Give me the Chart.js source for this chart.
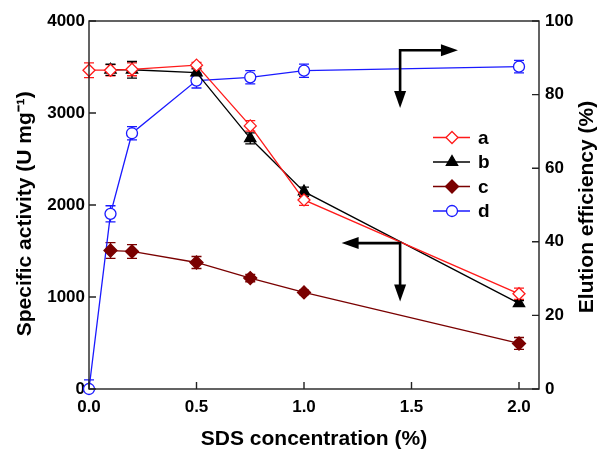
<!DOCTYPE html>
<html>
<head>
<meta charset="utf-8">
<script src="https://cdn.jsdelivr.net/npm/chart.js@4.4.1/dist/chart.umd.min.js"></script>
<style>
  html, body { margin: 0; padding: 0; background: #fff; }
</style>
</head>
<body>
<canvas id="chart" width="597" height="451"></canvas>
<script>
// SDS concentration (%) on the x axis
const sdsConc = [0, 0.1, 0.2, 0.5, 0.75, 1.0, 2.0];

// specific activity (U mg-1), left axis
const activityA = [3465, 3465, 3475, 3520, 2860, 2055, 1035];
const activityB = [null, 3470, 3470, 3440, 2725, 2145, 930];
const activityC = [null, 1505, 1495, 1375, 1206, 1050, 495];
const errA = [80, 60, 70, 30, 58, 60, 62];
const errB = [null, 60, 90, 40, 60, 50, 30];
const errC = [null, 85, 75, 65, 40, 25, 65];

// elution efficiency (%), right axis
const elutionD = [0, 47.6, 69.5, 83.8, 84.7, 86.5, 87.6];
const errD = [2.5, 2.2, 1.8, 2.0, 1.8, 1.8, 1.7];

const seriesNames = ["a", "b", "c", "d"];
const xTicks = [0, 0.5, 1.0, 1.5, 2.0];
const leftTicks = [0, 1000, 2000, 3000, 4000];
const rightTicks = [0, 20, 40, 60, 80, 100];

const FONT = "'Liberation Sans', Arial, sans-serif";
const tickFont = { family: FONT, size: 17, weight: "bold" };
const titleFont = { family: FONT, size: 21, weight: "bold", lineHeight: 1 };

function toPoints(values) {
  return sdsConc
    .map((x, i) => ({ x: x, y: values[i] }))
    .filter(p => p.y !== null);
}

function makeSet(label, values, errors, color, style, radius, fill, axis) {
  return {
    label: label,
    data: toPoints(values),
    errors: errors,
    yAxisID: axis,
    borderColor: color,
    backgroundColor: fill,
    borderWidth: 1.3,
    pointStyle: style,
    pointRadius: radius,
    pointBorderWidth: 1.3,
    pointBorderColor: color,
    pointBackgroundColor: fill,
    tension: 0,
    clip: false
  };
}

// small marker drawer for the legend
function marker(ctx, style, x, y, r, stroke, fill) {
  ctx.beginPath();
  if (style === "rectRot") {
    ctx.moveTo(x, y - r); ctx.lineTo(x + r, y); ctx.lineTo(x, y + r); ctx.lineTo(x - r, y);
    ctx.closePath();
  } else if (style === "triangle") {
    ctx.moveTo(x, y - r); ctx.lineTo(x + r * 0.87, y + r * 0.5); ctx.lineTo(x - r * 0.87, y + r * 0.5);
    ctx.closePath();
  } else {
    ctx.arc(x, y, r, 0, Math.PI * 2);
  }
  ctx.fillStyle = fill;
  ctx.fill();
  ctx.lineWidth = 1.3;
  ctx.strokeStyle = stroke;
  ctx.stroke();
}

function arrowHead(ctx, x, y, dir) {
  const len = 17, half = 6;
  ctx.beginPath();
  if (dir === "down") {
    ctx.moveTo(x, y); ctx.lineTo(x - half, y - len); ctx.lineTo(x + half, y - len);
  } else if (dir === "right") {
    ctx.moveTo(x, y); ctx.lineTo(x - len, y - half); ctx.lineTo(x - len, y + half);
  } else {
    ctx.moveTo(x, y); ctx.lineTo(x + len, y - half); ctx.lineTo(x + len, y + half);
  }
  ctx.closePath();
  ctx.fill();
}

// L-shaped arrows in data units: corner, vertical tip, horizontal tip
const arrows = [
  { cx: 1.447, cy: 3682, downTo: 3053, sideTo: 1.716, side: "right" },
  { cx: 1.447, cy: 1586, downTo: 952, sideTo: 1.175, side: "left" }
];

const extras = {
  id: "extras",
  beforeDatasetsDraw(chart) {
    const ctx = chart.ctx;
    const a = chart.chartArea;
    const xs = chart.scales.x;
    ctx.save();
    ctx.beginPath();
    ctx.rect(a.left - 10, a.top - 10, a.right - a.left + 20, a.bottom - a.top + 10);
    ctx.clip();
    chart.data.datasets.forEach(ds => {
      const ys = chart.scales[ds.yAxisID];
      ctx.strokeStyle = ds.borderColor;
      ctx.lineWidth = 1.3;
      ds.data.forEach(p => {
        const idx = sdsConc.indexOf(p.x);
        const e = ds.errors[idx];
        if (e === null || e === undefined) return;
        const px = xs.getPixelForValue(p.x);
        const top = ys.getPixelForValue(p.y + e);
        const bot = ys.getPixelForValue(p.y - e);
        ctx.beginPath();
        ctx.moveTo(px, top); ctx.lineTo(px, bot);
        ctx.moveTo(px - 5, top); ctx.lineTo(px + 5, top);
        ctx.moveTo(px - 5, bot); ctx.lineTo(px + 5, bot);
        ctx.stroke();
      });
    });
    ctx.restore();
  },
  afterDatasetsDraw(chart) {
    const ctx = chart.ctx;
    const a = chart.chartArea;
    const xs = chart.scales.x, yl = chart.scales.y, yr = chart.scales.y1;
    ctx.save();

    // frame
    ctx.strokeStyle = "#222";
    ctx.lineWidth = 1.4;
    ctx.strokeRect(a.left, a.top, a.right - a.left, a.bottom - a.top);

    // inward tick marks
    ctx.beginPath();
    xs.ticks.forEach(t => {
      const px = xs.getPixelForValue(t.value);
      ctx.moveTo(px, a.bottom); ctx.lineTo(px, a.bottom - 7);
    });
    yl.ticks.forEach(t => {
      const py = yl.getPixelForValue(t.value);
      ctx.moveTo(a.left, py); ctx.lineTo(a.left + 7, py);
    });
    yr.ticks.forEach(t => {
      const py = yr.getPixelForValue(t.value);
      ctx.moveTo(a.right, py); ctx.lineTo(a.right - 7, py);
    });
    ctx.stroke();

    // arrows
    ctx.strokeStyle = "#000";
    ctx.fillStyle = "#000";
    ctx.lineWidth = 2.6;
    arrows.forEach(ar => {
      const cx = xs.getPixelForValue(ar.cx);
      const cy = yl.getPixelForValue(ar.cy);
      const dy = yl.getPixelForValue(ar.downTo);
      const sx = xs.getPixelForValue(ar.sideTo);
      const sgn = ar.side === "right" ? -1 : 1;
      ctx.beginPath();
      ctx.moveTo(cx, dy - 12);
      ctx.lineTo(cx, cy);
      ctx.lineTo(sx + sgn * 12, cy);
      ctx.stroke();
      arrowHead(ctx, cx, dy, "down");
      arrowHead(ctx, sx, cy, ar.side);
    });

    // legend
    const lx = a.right - 106;
    ctx.font = "bold 19px " + FONT;
    ctx.textBaseline = "middle";
    ctx.textAlign = "left";
    chart.data.datasets.forEach((ds, i) => {
      const ly = a.top + 116.5 + i * 24.5;
      ctx.strokeStyle = ds.borderColor;
      ctx.lineWidth = 1.3;
      ctx.beginPath();
      ctx.moveTo(lx, ly); ctx.lineTo(lx + 37, ly);
      ctx.stroke();
      marker(ctx, ds.pointStyle, lx + 19, ly, ds.pointRadius, ds.borderColor, ds.pointBackgroundColor);
      ctx.fillStyle = "#000";
      ctx.fillText(ds.label, lx + 45, ly + 1);
    });

    // right axis title, reading bottom to top like the left one
    ctx.save();
    ctx.translate(587, (a.top + a.bottom) / 2 + 2);
    ctx.rotate(-Math.PI / 2);
    ctx.font = "bold 21px " + FONT;
    ctx.textAlign = "center";
    ctx.textBaseline = "middle";
    ctx.fillStyle = "#000";
    ctx.fillText("Elution efficiency (%)", 0, 0);
    ctx.restore();

    ctx.restore();
  }
};

const ctx = document.getElementById("chart").getContext("2d");

const chart = new Chart(ctx, {
  type: "line",
  data: {
    datasets: [
      makeSet(seriesNames[0], activityA, errA, "#ff1a1a", "rectRot", 6, "#ffffff", "y"),
      makeSet(seriesNames[1], activityB, errB, "#000000", "triangle", 6.5, "#000000", "y"),
      makeSet(seriesNames[2], activityC, errC, "#7a0000", "rectRot", 6.5, "#7a0000", "y"),
      makeSet(seriesNames[3], elutionD, errD, "#1a1aff", "circle", 5.5, "#ffffff", "y1")
    ]
  },
  options: {
    responsive: false,
    animation: false,
    devicePixelRatio: 1,
    layout: { padding: { top: 21, left: 0, right: 0, bottom: 0 } },
    plugins: {
      legend: { display: false },
      tooltip: { enabled: false }
    },
    scales: {
      x: {
        type: "linear",
        min: 0,
        max: 2.093,
        afterBuildTicks: s => { s.ticks = xTicks.map(v => ({ value: v })); },
        afterFit: s => { s.height = 62; },
        grid: { display: false, drawTicks: false },
        border: { display: false },
        ticks: {
          color: "#000",
          font: tickFont,
          padding: 8,
          maxRotation: 0,
          autoSkip: false,
          callback: v => Number(v).toFixed(1)
        },
        title: {
          display: true,
          text: "SDS concentration (%)",
          color: "#000",
          font: titleFont,
          padding: { top: 0, bottom: 1 }
        }
      },
      y: {
        position: "left",
        min: 0,
        max: 4000,
        afterBuildTicks: s => { s.ticks = leftTicks.map(v => ({ value: v })); },
        afterFit: s => { s.width = 89; },
        grid: { display: false, drawTicks: false },
        border: { display: false },
        ticks: { color: "#000", font: tickFont, padding: 4, callback: v => String(v) },
        title: {
          display: true,
          text: "Specific activity (U mg\u207B\u00B9)\u00a0\u00a0\u00a0",
          color: "#000",
          font: titleFont,
          padding: { top: 15, bottom: 0 }
        }
      },
      y1: {
        position: "right",
        min: 0,
        max: 100,
        afterBuildTicks: s => { s.ticks = rightTicks.map(v => ({ value: v })); },
        afterFit: s => { s.width = 58; },
        grid: { display: false, drawTicks: false },
        border: { display: false },
        ticks: { color: "#000", font: tickFont, padding: 6, callback: v => String(v) },
        title: { display: false }
      }
    }
  },
  plugins: [extras]
});
</script>
</body>
</html>
